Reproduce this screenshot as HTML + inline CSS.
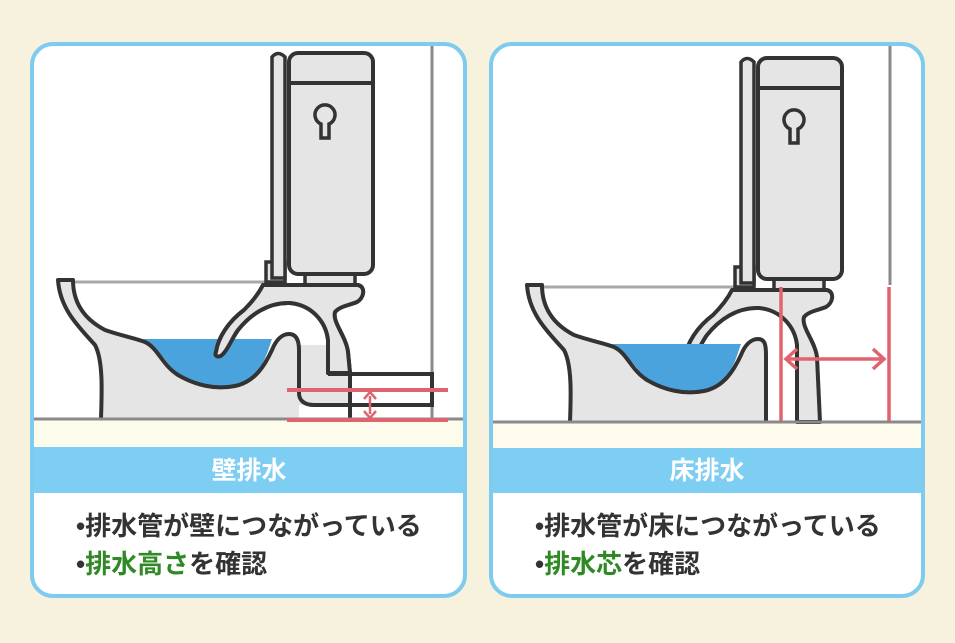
<!DOCTYPE html>
<html><head><meta charset="utf-8"><style>
html,body{margin:0;padding:0;background:#f7f2dd;}
svg{display:block}
text{font-family:"Liberation Sans","Noto Sans CJK JP",sans-serif;font-weight:bold}
</style></head><body>
<svg width="955" height="643" viewBox="0 0 955 643" xmlns="http://www.w3.org/2000/svg">
<rect width="955" height="643" fill="#f7f2dd"/>
<defs>
<g id="tank">
 <path d="M266,262 L285,262 L285,282 L266,282 Z" fill="#e5e5e5" stroke="#333" stroke-width="3.5"/>
 <path d="M272,278 L272,57 Q278,50 285,57 L285,278 Z" fill="#e5e5e5" stroke="#333" stroke-width="3.5"/>
 <rect x="305" y="271" width="50" height="14" fill="#e5e5e5" stroke="#333" stroke-width="3.5"/>
 <rect x="289" y="53" width="84" height="221" rx="9" fill="#e5e5e5" stroke="#333" stroke-width="4"/>
 <path d="M289,83 L373,83" stroke="#333" stroke-width="4"/>
 <path d="M321,138 L321,124 A10,10 0 1 1 329,124 L329,138 Z" fill="#e5e5e5" stroke="#333" stroke-width="3.5"/>
</g>
<g id="arch">
 <path d="M216,352 C218,338 228,322 244,310 C252,302 258,295 263,285 L358,285 C366,287 364,298 357,302 C350,305 340,306 335,312 C332,322 346,336 348,352 L350,373 L328,373 L328,340 C326,322 312,305 290,303 C268,302 250,315 238,330 C232,338 228,350 222,355 C218,358 214,356 216,352 Z" fill="#e5e5e5" stroke="#333" stroke-width="4" stroke-linejoin="round"/>
</g>
</defs>

<!-- LEFT CARD -->
<rect x="32" y="44" width="433" height="552" rx="21" fill="#fff"/>
<rect x="34" y="419" width="429" height="28" fill="#fdfbeb"/>
<rect x="34" y="447" width="429" height="46" fill="#7ecdf2"/>
<line x1="432" y1="46" x2="432" y2="418" stroke="#8a8a8a" stroke-width="3"/>
<line x1="72" y1="282" x2="266" y2="282" stroke="#a8a8a8" stroke-width="3"/>
<use href="#tank"/>
<path d="M297,345 L328,345 L328,373 L349,373 L349,405 L297,405 Z" fill="#e5e5e5"/>
<use href="#arch"/>
<path d="M58,280 L73,280 C73,300 82,318 105,330 C122,336 135,338 145,342 C158,348 162,365 178,375 C195,385 215,390 235,386 C255,382 265,365 272,350 C276,340 282,334 289,334 C296,334 299,340 299,350 L299,418 L101,418 C102,390 103,360 95,345 C80,328 60,310 58,280 Z" fill="#e5e5e5"/>
<path d="M138,339 L272,339 C268,350 264,368 250,378 C240,386 225,389 210,387 C192,384 180,377 170,366 C160,352 152,345 138,339 Z" fill="#4aa3dc"/>
<path d="M101,418 C102,390 103,360 95,345 C80,328 60,310 58,280 L73,280 C73,300 82,318 105,330 C122,336 135,338 145,342 C158,348 162,365 178,375 C195,385 215,390 235,386 C255,382 265,365 272,350 C276,340 282,334 289,334 C296,334 299,340 299,350 L299,393 C299,401 305,405 314,405 L432,405" fill="none" stroke="#333" stroke-width="4" stroke-linejoin="round"/>
<use href="#arch"/>
<line x1="328" y1="374" x2="432" y2="374" stroke="#333" stroke-width="4"/>
<line x1="350" y1="372" x2="350" y2="418" stroke="#333" stroke-width="4"/>
<line x1="432" y1="372" x2="432" y2="407" stroke="#333" stroke-width="4"/>
<line x1="34" y1="419" x2="463" y2="419" stroke="#8a8a8a" stroke-width="3"/>
<line x1="287" y1="390" x2="448" y2="390" stroke="#e06470" stroke-width="4"/>
<line x1="287" y1="420" x2="448" y2="420" stroke="#e06470" stroke-width="4"/>
<line x1="370" y1="396" x2="370" y2="414" stroke="#e06470" stroke-width="2.5"/>
<path d="M364,399 L370,392 L376,399 M364,411 L370,418 L376,411" fill="none" stroke="#e06470" stroke-width="2.5"/>
<rect x="32" y="44" width="433" height="552" rx="21" fill="none" stroke="#7fcbf0" stroke-width="4"/>
<text x="249" y="479" font-size="25" fill="#fff" text-anchor="middle">壁排水</text>
<text x="76" y="535" font-size="26" fill="#333">•排水管が壁につながっている</text>
<text x="76" y="573" font-size="26" fill="#333">•<tspan fill="#2f8a26">排水高さ</tspan>を確認</text>

<!-- RIGHT CARD -->
<rect x="491" y="44" width="432" height="552" rx="21" fill="#fff"/>
<rect x="493" y="422" width="428" height="26" fill="#fdfbeb"/>
<rect x="493" y="448" width="428" height="45" fill="#7ecdf2"/>
<line x1="890" y1="46" x2="890" y2="285" stroke="#8a8a8a" stroke-width="3"/>
<g transform="translate(469,5)">
<line x1="72" y1="282" x2="266" y2="282" stroke="#a8a8a8" stroke-width="3"/>
<use href="#tank"/>
<path d="M216,352 C218,338 228,322 244,310 C252,302 258,295 263,285 L358,285 C366,287 364,298 357,302 C350,305 340,306 335,312 C332,322 346,336 348,352 L351,417 L328,417 L328,340 C326,322 312,305 290,303 C268,302 250,315 238,330 C232,338 228,350 222,355 C218,358 214,356 216,352 Z" fill="#e5e5e5" stroke="#333" stroke-width="4" stroke-linejoin="round"/>
<path d="M58,280 L73,280 C73,300 82,318 105,330 C122,336 135,338 145,342 C158,348 162,365 178,375 C195,385 215,390 235,386 C255,382 265,365 272,350 C276,340 282,334 289,334 C296,334 297,340 297,350 L297,417 L101,417 C102,390 103,360 95,345 C80,328 60,310 58,280 Z" fill="#e5e5e5"/>
<path d="M138,339 L272,339 C268,350 264,368 250,378 C240,386 225,389 210,387 C192,384 180,377 170,366 C160,352 152,345 138,339 Z" fill="#4aa3dc"/>
<path d="M101,417 C102,390 103,360 95,345 C80,328 60,310 58,280 L73,280 C73,300 82,318 105,330 C122,336 135,338 145,342 C158,348 162,365 178,375 C195,385 215,390 235,386 C255,382 265,365 272,350 C276,340 282,334 289,334 C296,334 297,340 297,350 L297,417" fill="none" stroke="#333" stroke-width="4" stroke-linejoin="round"/>
</g>
<line x1="493" y1="422" x2="921" y2="422" stroke="#8a8a8a" stroke-width="3"/>
<line x1="781" y1="287" x2="781" y2="421" stroke="#e06470" stroke-width="3.5"/>
<line x1="889" y1="287" x2="889" y2="421" stroke="#e06470" stroke-width="3.5"/>
<line x1="786" y1="359" x2="884" y2="359" stroke="#e06470" stroke-width="3.5"/>
<path d="M797,349 L786,359 L797,369 M873,349 L884,359 L873,369" fill="none" stroke="#e06470" stroke-width="3.5"/>
<rect x="491" y="44" width="432" height="552" rx="21" fill="none" stroke="#7fcbf0" stroke-width="4"/>
<text x="707" y="479" font-size="25" fill="#fff" text-anchor="middle">床排水</text>
<text x="535" y="535" font-size="26" fill="#333">•排水管が床につながっている</text>
<text x="535" y="573" font-size="26" fill="#333">•<tspan fill="#2f8a26">排水芯</tspan>を確認</text>
</svg>
</body></html>
